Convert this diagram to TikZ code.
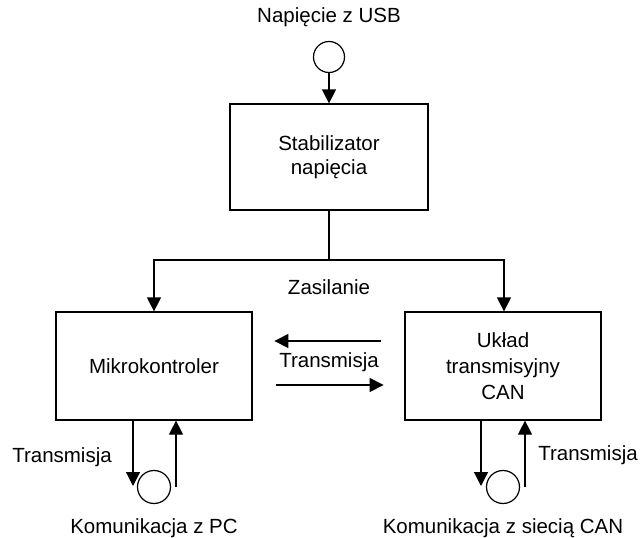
\documentclass[tikz,border=0pt]{standalone}
\usepackage{fontspec}
\setmainfont{Liberation Sans}
\usetikzlibrary{arrows.meta}
\begin{document}
\begin{tikzpicture}[x=1pt,y=-1pt,
  every node/.style={font=\fontsize{20.5}{24}\selectfont, inner sep=0pt},
  blk/.style={draw, line width=1.2pt, minimum width=#1, minimum height=108pt, align=center},
  port/.style={draw, circle, line width=1.2pt, minimum size=33pt},
  conn/.style={line width=1.2pt},
  arr/.style={line width=1.2pt, -{Triangle[length=14pt,width=14pt]}},
  lbl/.style={align=center}]
\useasboundingbox (0,0) rectangle (641,538);
% nodes
\node[lbl] (usbl) at (329,17) {Napięcie z USB};
\node[port, minimum size=31pt] (usb) at (329,57) {};
\node[draw, line width=1.2pt, minimum width=198pt, minimum height=106pt, align=center] (stab) at (329,157) {Stabilizator\\napięcia};
\node[lbl] (zas) at (329,287) {Zasilanie};
\node[blk=196pt] (mk) at (154,366) {Mikrokontroler};
\node[blk=196pt] (can) at (503,366) {Układ\\[2pt]transmisyjny\\[2pt]CAN};
\node[lbl] (tr) at (329,362) {Transmisja};
\node[port] (pc) at (154,487) {};
\node[port] (net) at (503,487) {};
\node[lbl] (trl) at (62,457) {Transmisja};
\node[lbl] (trr) at (588,455) {Transmisja};
\node[lbl] (pcl) at (154,528) {Komunikacja z PC};
\node[lbl] (netl) at (503,528) {Komunikacja z siecią CAN};
% coordinates
\coordinate (j) at (329,260);
\coordinate (jl) at (154,260);
\coordinate (jr) at (504,260);
% connectors
\draw[arr] (usb.south) -- (stab.north);
\draw[conn] (stab.south) -- (j);
\draw[arr] (j) -- (jl) -- (mk.north);
\draw[arr] (j) -- (jr) -- (can.north -| jr);
\draw[arr] (can.west |- 0,341) ++(-23,0) -- ++(-107,0) coordinate (t1);
\draw[arr] (mk.east |- 0,385) ++(23,0) -- ++(108,0) coordinate (t2);
\draw[arr] (mk.south -| 133,0) -- (133,486);
\draw[arr] (176,487) -- (mk.south -| 176,0);
\draw[arr] (can.south -| 481,0) -- (481,486);
\draw[arr] (525,487) -- (can.south -| 525,0);
\end{tikzpicture}
\end{document}
